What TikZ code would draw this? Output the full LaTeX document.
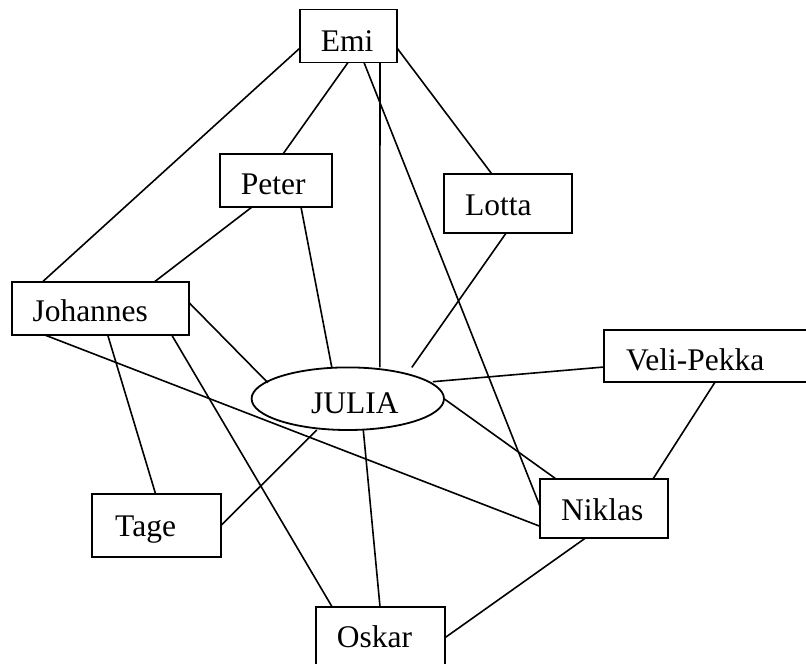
\documentclass[tikz,border=0pt]{standalone}
\usepackage{fontspec}
\setmainfont{Liberation Serif}
\usetikzlibrary{calc,shapes.geometric}
\begin{document}
\begin{tikzpicture}[x=1pt,y=-1pt,
  box/.style={draw, rectangle, line width=1.8pt, inner sep=0pt, outer sep=0pt},
  oval/.style={draw, ellipse, line width=1.8pt, inner sep=0pt, outer sep=0pt},
  lbl/.style={anchor=base west, inner sep=0pt, font=\fontsize{31.5}{36}\selectfont},
  link/.style={line width=1.6pt}]
\clip (0,0) rectangle (806,664);
% boxes
\node[box, minimum width=97pt,  minimum height=53pt]   (emi)      at (348.5,36)    {};
\node[box, minimum width=112pt, minimum height=53pt]   (peter)    at (276,180.5)   {};
\node[box, minimum width=128pt, minimum height=59pt]   (lotta)    at (508,203.7)   {};
\node[box, minimum width=177pt, minimum height=53.3pt] (johannes) at (100.2,308.3) {};
\node[box, minimum width=208pt, minimum height=52.3pt] (veli)     at (708,356)     {};
\node[oval, minimum width=192.4pt, minimum height=62.6pt] (julia) at (347.8,398.7) {};
\node[box, minimum width=129pt, minimum height=63pt]   (tage)     at (156.2,525.8) {};
\node[box, minimum width=128pt, minimum height=58.7pt] (niklas)   at (604,508.3)   {};
\node[box, minimum width=129pt, minimum height=93.4pt] (oskar)    at (380.5,653.4) {};
% labels
\node[lbl] (emiT)      at (320.7,51)   {Emi};
\node[lbl] (peterT)    at (240.7,194)  {Peter};
\node[lbl] (lottaT)    at (465,215)    {Lotta};
\node[lbl] (johannesT) at (32.3,321.7) {Johannes};
\node[lbl] (juliaT)    at (311,413.3)  {JULIA};
\node[lbl] (veliT)     at (626,370)    {Veli-Pekka};
\node[lbl] (niklasT)   at (561,520)    {Niklas};
\node[lbl] (tageT)     at (115,536)    {Tage};
\node[lbl] (oskarT)    at (336.7,647.7){Oskar};
% connectors
\draw[link] ($(emi.east)+(0,12)$) -- ($(lotta.north west)+(48,0)$);
\draw[link] ($(emi.west)+(0,12)$) -- ($(johannes.north west)+(31,0)$);
\draw[link] ($(emi.south west)+(48,0)$) -- ($(peter.north west)+(63,0)$);
\draw[link] ($(emi.south west)+(80,0)$) -- ($(julia.north)+(32,0)$);
\draw[link] ($(emi.south west)+(64,0)$) -- ($(niklas.west)+(0,-2)$);
\draw[link] ($(peter.south west)+(32,0)$) -- ($(johannes.north west)+(143,0)$);
\draw[link] ($(peter.south west)+(81,0)$) -- ($(julia.north)+(-16,0)$);
\draw[link] ($(lotta.south west)+(62,0)$) -- ($(julia.north)+(64,0)$);
\draw[link] ($(johannes.east)+(0,-6)$) -- ($(julia.center)+(-80,-16)$);
\draw[link] ($(johannes.south west)+(33,0)$) -- ($(niklas.west)+(0,18)$);
\draw[link] ($(johannes.south west)+(96,0)$) -- ($(tage.north west)+(64,0)$);
\draw[link] ($(johannes.south west)+(160,0)$) -- ($(oskar.north west)+(16,0)$);
\draw[link] ($(julia.center)+(85,-17)$) -- ($(veli.west)+(0,11)$);
\draw[link] (julia.east) -- ($(niklas.north west)+(16,0)$);
\draw[link] ($(julia.south)+(-31,0)$) -- (tage.east);
\draw[link] ($(julia.south)+(15.5,0)$) -- ($(oskar.north west)+(64,0)$);
\draw[link] ($(veli.south west)+(111,0)$) -- ($(niklas.north west)+(113,0)$);
\draw[link] ($(niklas.south west)+(46,0)$) -- ($(oskar.north east)+(0,31)$);
\end{tikzpicture}
\end{document}
